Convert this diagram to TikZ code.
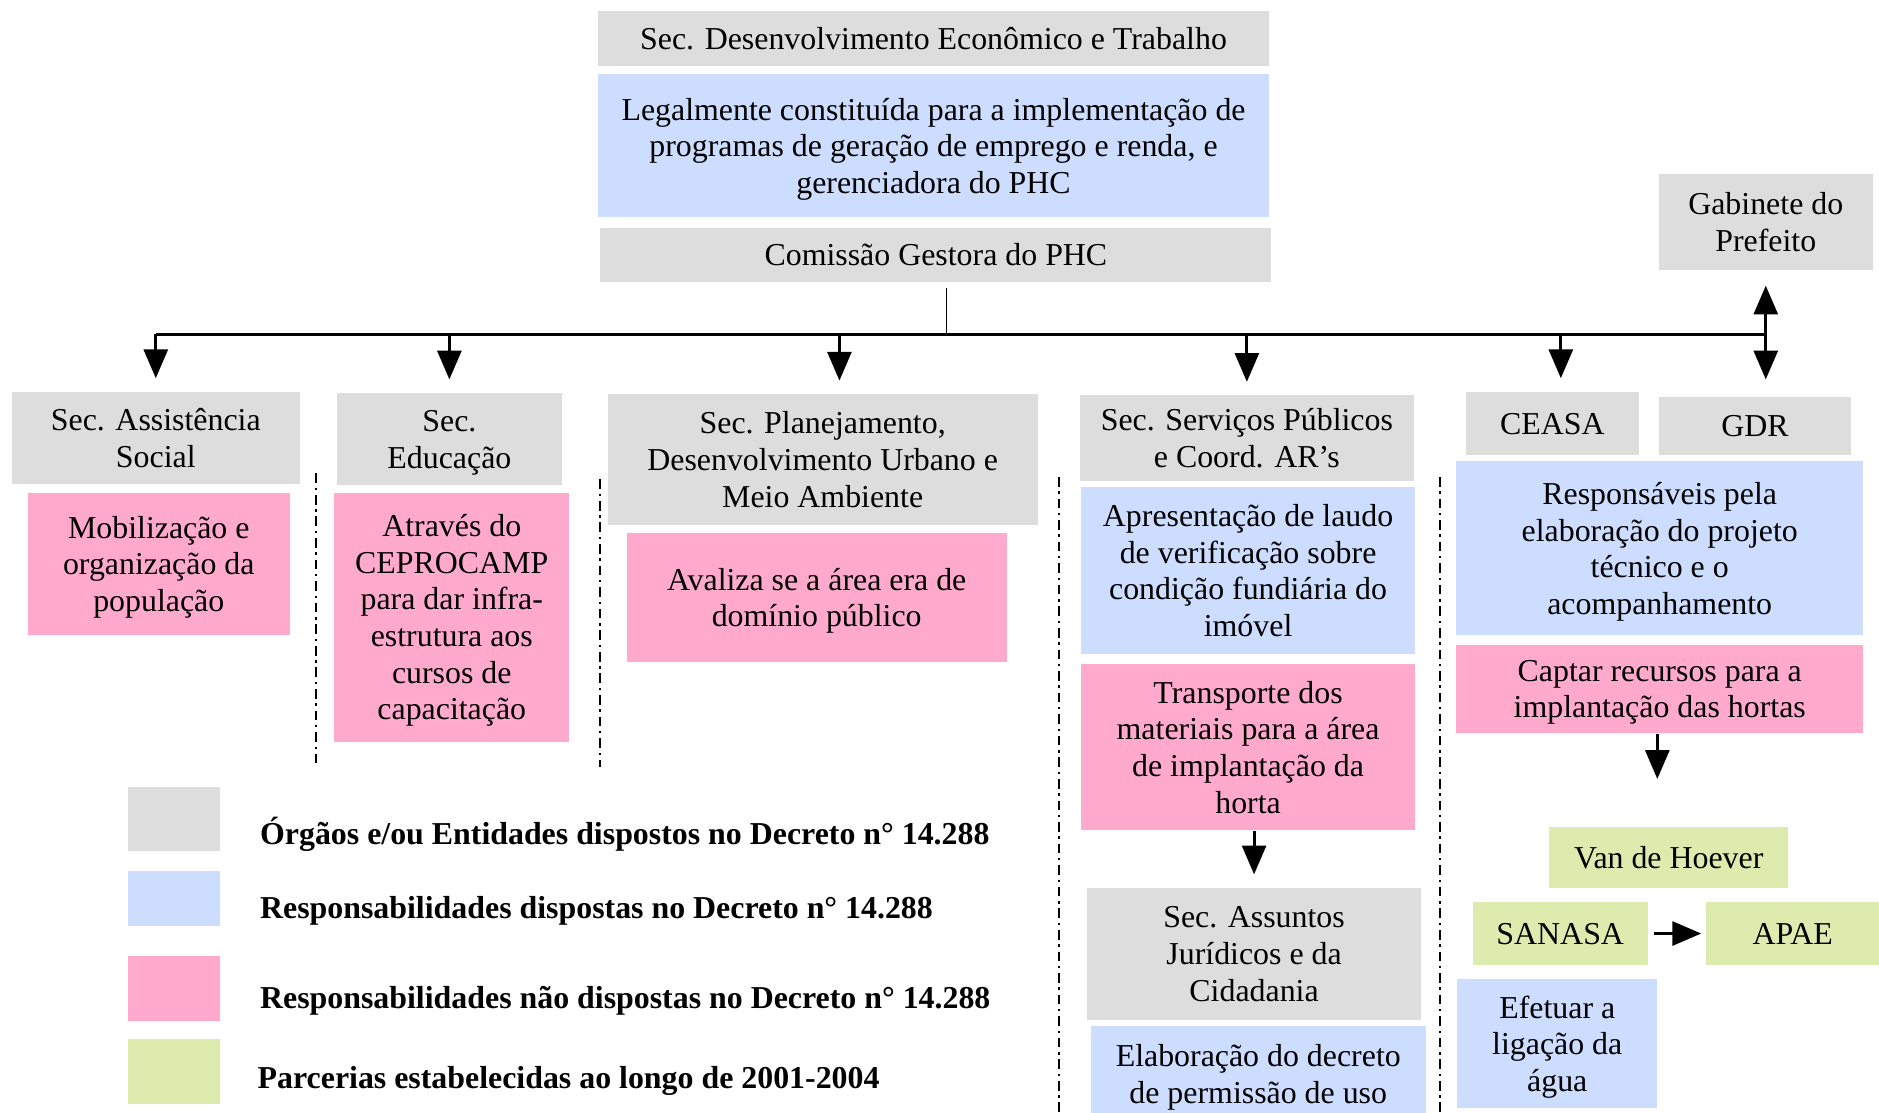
\documentclass[tikz,border=0pt]{standalone}
\usepackage{fontspec}
\setmainfont{Liberation Serif}
\usepackage{tikz}
\usetikzlibrary{arrows.meta}

\definecolor{cinza}{RGB}{221,221,221}
\definecolor{azul}{RGB}{204,221,255}
\definecolor{rosa}{RGB}{255,170,204}
\definecolor{verde}{RGB}{221,236,174}
\newcommand{\tamanho}{\fontsize{13.3}{15.3}\selectfont}

\tikzset{
	caixa/.style={inner sep=0pt, align=center, text depth=0pt, font=\tamanho},
	orgao/.style={caixa, fill=cinza},
	resp/.style={caixa, fill=azul},
	naoresp/.style={caixa, fill=rosa},
	parceria/.style={caixa, fill=verde},
	seta/.style={-{Triangle[length=12pt,width=10pt]}, line width=1.2pt},
	divisa/.style={line width=0.8pt, dash pattern=on 4pt off 2pt on 1pt off 2pt},
}

\begin{document}
\begin{tikzpicture}[x=0.5pt, y=-0.5pt]
			\clip (0,0) rectangle (1568,928);
			% topo
			\node[orgao, minimum width=280pt, minimum height=23pt] (topsec) at (779,32) {Sec. Desenvolvimento Econômico e Trabalho};
			\node[resp, minimum width=280pt, minimum height=59.5pt] (topresp) at (779,121.5) {Legalmente constituída para a implementação de\\programas de geração de emprego e renda, e\\gerenciadora do PHC};
			\node[orgao, minimum width=280pt, minimum height=22.5pt] (comissao) at (781,212.5) {Comissão Gestora do PHC};
			\node[orgao, minimum width=89.5pt, minimum height=40pt] (gab) at (1473.5,185) {Gabinete do\\Prefeito};
			% secretarias
			\node[orgao, minimum width=120pt, minimum height=38.5pt] (ass) at (130,365.5) {Sec. Assistência\\Social};
			\node[naoresp, minimum width=109.5pt, minimum height=59.5pt] (mob) at (132.5,470.5) {Mobilização e\\organização da\\população};
			\node[orgao, minimum width=94pt, minimum height=38.5pt] (edu) at (375,366.5) {Sec.\\Educação};
			\node[naoresp, minimum width=98pt, minimum height=104pt] (atr) at (377,515) {Através do\\CEPROCAMP\\para dar infra-\\estrutura aos\\cursos de\\capacitação};
			\node[orgao, minimum width=179.5pt, minimum height=54.5pt] (plan) at (686.5,383.5) {Sec. Planejamento,\\Desenvolvimento Urbano e\\Meio Ambiente};
			\node[naoresp, minimum width=158.5pt, minimum height=53.5pt] (aval) at (681.5,498.5) {Avaliza se a área era de\\domínio público};
			\node[orgao, minimum width=139.5pt, minimum height=35.5pt] (serv) at (1040.5,365.5) {Sec. Serviços Públicos\\e Coord. AR’s};
			\node[resp, minimum width=139.5pt, minimum height=70pt] (apres) at (1041.5,476) {Apresentação de laudo\\de verificação sobre\\condição fundiária do\\imóvel};
			\node[naoresp, minimum width=139.5pt, minimum height=69.5pt] (transp) at (1041.5,623.5) {Transporte dos\\materiais para a área\\de implantação da\\horta};
			\node[orgao, minimum width=139.5pt, minimum height=55pt] (assun) at (1046.5,796) {Sec. Assuntos\\Jurídicos e da\\Cidadania};
			\node[resp, minimum width=140pt, minimum height=40pt] (elab) at (1050,896) {Elaboração do decreto\\de permissão de uso};
			\node[orgao, minimum width=72.5pt, minimum height=26.5pt] (ceasa) at (1295.5,353.5) {CEASA};
			\node[orgao, minimum width=80.5pt, minimum height=24.5pt] (gdr) at (1464.5,355.5) {GDR};
			\node[resp, minimum width=170pt, minimum height=72.5pt] (respon) at (1385,457.5) {Responsáveis pela\\elaboração do projeto\\técnico e o\\acompanhamento};
			\node[naoresp, minimum width=170pt, minimum height=37pt] (captar) at (1385,575) {Captar recursos para a\\implantação das hortas};
			% parcerias
			\node[parceria, minimum width=99.5pt, minimum height=25.5pt] (van) at (1392.5,715.5) {Van de Hoever};
			\node[parceria, minimum width=73pt, minimum height=26pt] (sanasa) at (1302,779) {SANASA};
			\node[parceria, minimum width=72pt, minimum height=26pt] (apae) at (1496,779) {APAE};
			\node[resp, minimum width=83.5pt, minimum height=54pt] (efet) at (1299.5,871) {Efetuar a\\ligação da\\água};
			% ligacoes
			\coordinate (bar) at (790,279);
			\coordinate (captip) at (1383,650);
			\draw[line width=0.6pt] ([yshift=-2.5pt]comissao.south -| bar) -- (bar);
			\draw[line width=1pt] (ass.north |- bar) -- (gab.south |- bar);
			\foreach \n/\dx in {ass/0pt, edu/0pt, plan/7pt, serv/0pt, ceasa/3.5pt}
				\draw[seta, shorten >=5.5pt] ([xshift=\dx]\n.north |- bar) -- ([xshift=\dx]\n.north);
			\draw[seta, shorten >=7pt] (gab.south |- bar) -- (gab.south |- gdr.north);
			\draw[seta, shorten >=6.5pt] (gab.south |- bar) -- (gab.south);
			\draw[seta, shorten >=5.5pt] (assun.north |- transp.south) -- (assun.north);
			\draw[seta] (captar.south -| captip) -- (captip);
			\draw[seta, shorten <=2.5pt, shorten >=2pt] (sanasa) -- (apae);
			% divisorias
			\foreach \x/\ya/\yb in {264/395/640, 501/400/640, 884/398/928, 1202/398/928}
				\draw[divisa] (\x,\ya) -- (\x,\yb);
			% legenda
			\begin{scope}[every node/.append style={minimum width=38.5pt}]
				\node[orgao, minimum height=26.5pt] (lg1) at (145.5,683.5) {};
				\node[resp, minimum height=23pt] (lg2) at (145.5,750) {};
				\node[naoresp, minimum height=27pt] (lg3) at (145.5,825) {};
				\node[parceria, minimum height=27pt] (lg4) at (145.5,894) {};
			\end{scope}
			\node[anchor=west, font=\tamanho\bfseries] (tx1) at (210,696) {Órgãos e/ou Entidades dispostos no Decreto n° 14.288};
			\node[anchor=west, font=\tamanho\bfseries] (tx2) at (210,760) {Responsabilidades dispostas no Decreto n° 14.288};
			\node[anchor=west, font=\tamanho\bfseries] (tx3) at (210,835) {Responsabilidades não dispostas no Decreto n° 14.288};
			\node[anchor=west, font=\tamanho\bfseries] (tx4) at (208,902) {Parcerias estabelecidas ao longo de 2001-2004};
		\end{tikzpicture}
\end{document}
